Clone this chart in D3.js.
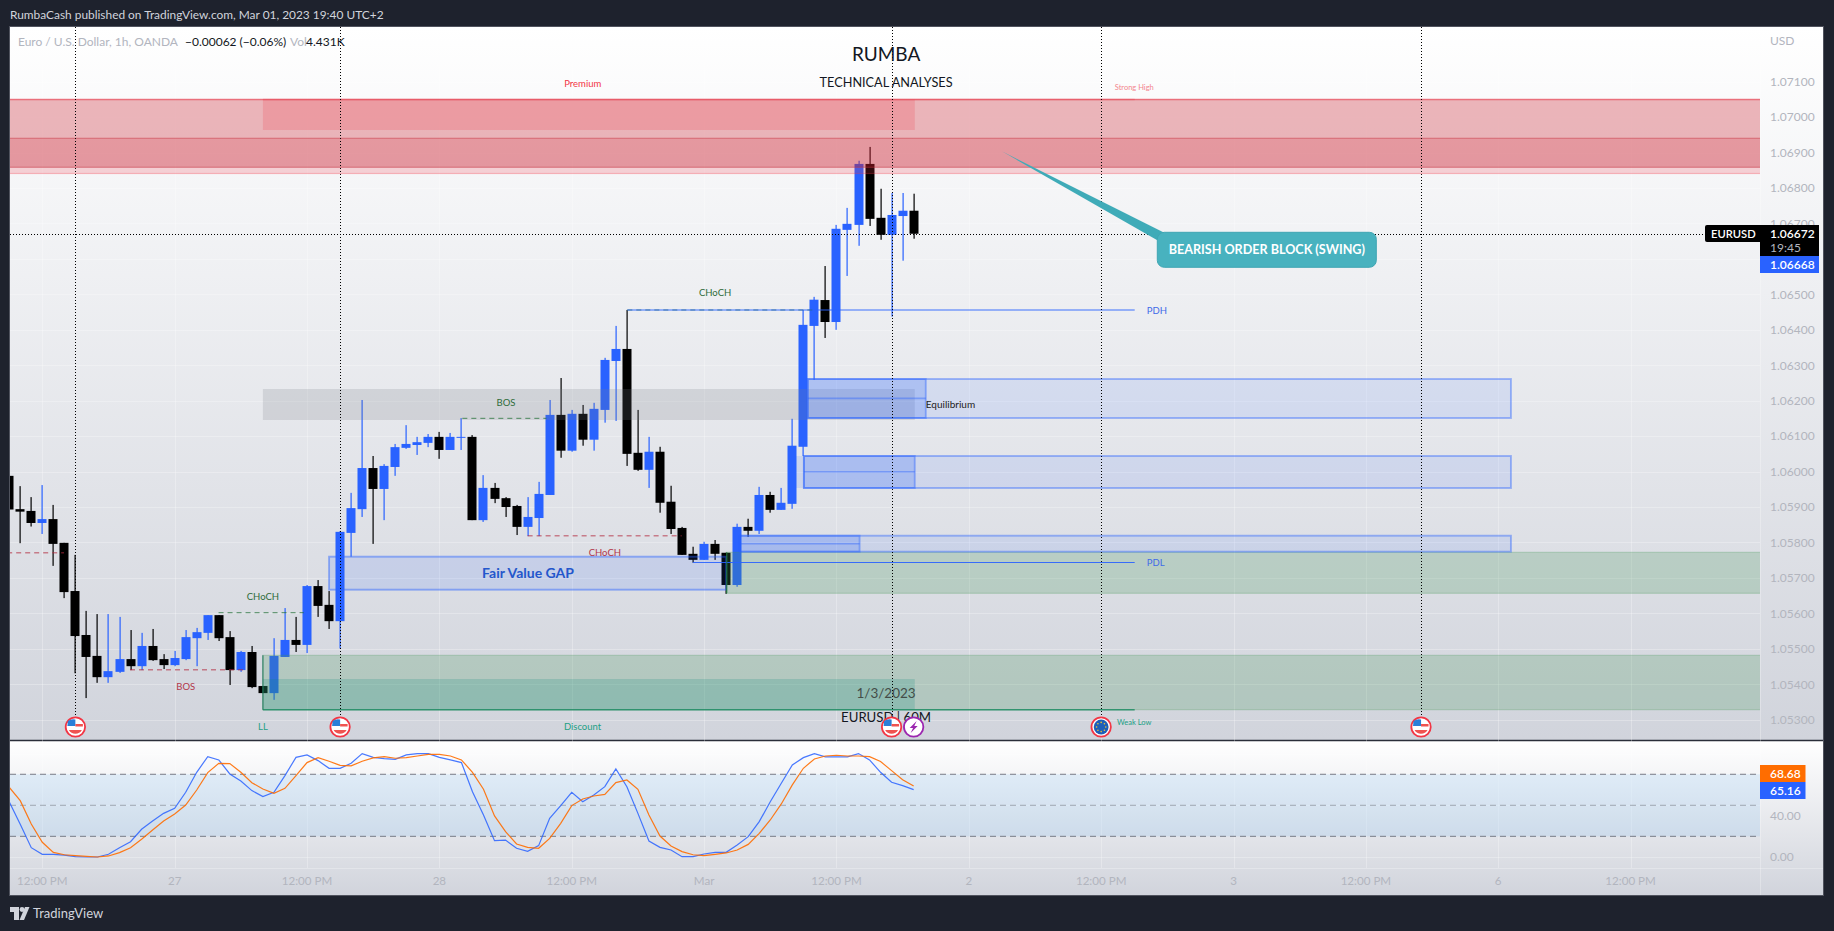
<!DOCTYPE html>
<html><head><meta charset="utf-8">
<style>html,body{margin:0;padding:0;background:#1e222d;overflow:hidden}svg{display:block}text{font-family:Lato,"Noto Sans",sans-serif}</style>
<script src="https://cdnjs.cloudflare.com/ajax/libs/d3/7.8.5/d3.min.js"></script>
</head><body><svg id="c" width="1834" height="931"></svg>
<script>
const firstBar = -3;
const opens = [1.05988,1.05894,1.05889,1.05855,1.05866,1.05799,1.05663,1.05539,1.05480,1.05420,1.05435,1.05471,1.05451,1.05508,1.05471,1.05454,1.05471,1.05530,1.05545,1.05595,1.05533,1.05440,1.05491,1.05395,1.05375,1.05477,1.05525,1.05511,1.05677,1.05624,1.05578,1.05827,1.05894,1.06010,1.05951,1.06013,1.06067,1.06075,1.06081,1.06098,1.06061,1.06096,1.06098,1.05863,1.05954,1.05925,1.05903,1.05844,1.05869,1.05934,1.06160,1.06059,1.06163,1.06090,1.06174,1.06312,1.06346,1.06053,1.06005,1.06056,1.05915,1.05841,1.05768,1.05751,1.05796,1.05771,1.05680,1.05844,1.05833,1.05934,1.05892,1.05909,1.06070,1.06411,1.06484,1.06422,1.06682,1.06696,1.06868,1.06716,1.06668,1.06721,1.06736];
const closes = [1.05893,1.05887,1.05855,1.05866,1.05796,1.05660,1.05536,1.05477,1.05420,1.05437,1.05471,1.05451,1.05508,1.05468,1.05454,1.05474,1.05533,1.05547,1.05595,1.05530,1.05440,1.05491,1.05392,1.05375,1.05480,1.05525,1.05511,1.05677,1.05621,1.05578,1.05830,1.05897,1.06010,1.05951,1.06016,1.06069,1.06078,1.06083,1.06098,1.06061,1.06098,1.06098,1.05863,1.05954,1.05923,1.05900,1.05844,1.05872,1.05937,1.06160,1.06059,1.06163,1.06090,1.06177,1.06315,1.06346,1.06050,1.06005,1.06056,1.05912,1.05838,1.05765,1.05751,1.05796,1.05768,1.05680,1.05844,1.05833,1.05934,1.05892,1.05912,1.06073,1.06414,1.06485,1.06422,1.06685,1.06699,1.06868,1.06713,1.06668,1.06724,1.06736,1.06671];
const highs = [1.05990,1.05959,1.05928,1.05962,1.05906,1.05799,1.05765,1.05607,1.05598,1.05598,1.05590,1.05553,1.05545,1.05556,1.05485,1.05494,1.05553,1.05559,1.05595,1.05595,1.05550,1.05494,1.05508,1.05395,1.05530,1.05615,1.05590,1.05680,1.05694,1.05663,1.05832,1.05940,1.06202,1.06044,1.06021,1.06078,1.06131,1.06098,1.06106,1.06112,1.06109,1.06151,1.06103,1.05990,1.05968,1.05928,1.05906,1.05928,1.05971,1.06202,1.06264,1.06174,1.06188,1.06194,1.06321,1.06411,1.06456,1.06174,1.06098,1.06070,1.05960,1.05844,1.05788,1.05802,1.05807,1.05771,1.05853,1.05867,1.05957,1.05943,1.05954,1.06149,1.06456,1.06493,1.06580,1.06696,1.06744,1.06877,1.06916,1.06798,1.06786,1.06786,1.06784];
const lows = [1.05890,1.05798,1.05845,1.05824,1.05734,1.05643,1.05431,1.05361,1.05404,1.05404,1.05432,1.05440,1.05440,1.05466,1.05443,1.05451,1.05468,1.05451,1.05525,1.05522,1.05398,1.05435,1.05389,1.05375,1.05356,1.05477,1.05491,1.05488,1.05590,1.05556,1.05501,1.05760,1.05872,1.05796,1.05863,1.05988,1.06064,1.06047,1.06069,1.06036,1.06061,1.06061,1.05863,1.05858,1.05911,1.05872,1.05821,1.05818,1.05818,1.05934,1.06039,1.06056,1.06073,1.06059,1.06138,1.06143,1.06016,1.06002,1.05954,1.05884,1.05824,1.05765,1.05743,1.05751,1.05751,1.05655,1.05675,1.05816,1.05824,1.05884,1.05892,1.05895,1.06044,1.06259,1.06377,1.06400,1.06552,1.06637,1.06693,1.06654,1.06437,1.06595,1.06657];
const stochK = [53.5,31.6,9.0,2.6,2.6,1.9,0.3,0,0,2.6,9.0,14.8,26.8,34.8,42.2,47.1,62.6,81.9,97.1,93.9,80.3,73.5,64.2,58.4,62.6,78.7,96.4,98.7,93.2,85.8,85.8,90.6,100,96.4,95.2,94.5,98.7,100,100,96.4,93.9,91.3,63.2,40.6,15.8,16.4,8.4,5.5,11,37.4,49.7,62.6,53.5,60,68,85.2,68,42.2,15.5,9.3,6.8,0.3,0.3,2.9,4.5,4.5,11.6,19.7,34.2,53.5,71.3,89,96.1,100,96.8,96.8,96.8,100,93.9,81.9,72.3,69,65.16];
const stochD = [67.4,54.5,31.9,14.2,4.5,2.2,1.3,0.6,0,1,4.2,9,17.1,26.1,34.8,41.6,50.3,64.8,81.6,90.6,90.3,81.9,71.9,65.8,61.6,66.4,78.7,91.3,96.1,92.6,88.7,88.1,92.6,95.8,97.1,95.5,96.1,97.7,99.3,99.3,97.7,93.9,81.9,65.5,39.7,24.5,12.6,9.3,8.4,18,32.6,49.7,56.1,59,60.6,71.9,74.5,65.5,40.6,20.3,10.6,5.2,2.2,1.3,2.6,3.9,6.8,12.2,22.9,35.8,51.3,69.7,85.8,94.8,97.7,98.4,97.7,97.7,97.1,92.3,83.5,74.8,68.68];
const priceTicks = ["1.07100","1.07000","1.06900","1.06800","1.06700","1.06500","1.06400","1.06300","1.06200","1.06100","1.06000","1.05900","1.05800","1.05700","1.05600","1.05500","1.05400","1.05300"];
const gridPrices = [1.071,1.070,1.069,1.068,1.067,1.066,1.065,1.064,1.063,1.062,1.061,1.060,1.059,1.058,1.057,1.056,1.055,1.054,1.053];
const timeBars = [0,12,24,36,48,60,72,84,96,108,120,132,144];
const timeLabels = ["12:00 PM","27","12:00 PM","28","12:00 PM","Mar","12:00 PM","2","12:00 PM","3","12:00 PM","6","12:00 PM"];
const stochTicks = [40,0];
const stochLevels = [80,50,20];
const eventBars = [3,27,77,96,125];
const eventKinds = ["us","us","us","eu","us"];

// zones: [startBar, endBar, priceTop, priceBottom, fill, stroke]
const END = 157, START = -4;
const redZones = [
 [START,END,1.070498,1.06841,"rgba(242,54,69,0.2)","rgba(242,54,69,0.3)"],
 [START,END,1.070498,1.069403,"rgba(185,60,70,0.2)",null],
 [START,END,1.069403,1.068585,"rgba(190,20,35,0.3)","rgba(200,50,65,0.45)"],
 [20,79.1,1.070498,1.069637,"rgba(242,54,69,0.2)",null]
];
const greyZones = [[20,79.1,1.06233,1.061455,"rgba(120,123,134,0.2)",null]];
const blueZones = [
 [69.4,133.15,1.062612,1.061512,"rgba(41,98,255,0.1)","rgba(41,98,255,0.42)"],
 [69.4,80.1,1.062612,1.061512,"rgba(41,98,255,0.22)","rgba(41,98,255,0.4)"],
 [69.05,133.15,1.06044,1.059537,"rgba(41,98,255,0.1)","rgba(41,98,255,0.42)"],
 [68.15,69.05,1.06044,1.059537,"rgba(41,98,255,0.12)",null],
 [69.05,79.1,1.06044,1.059537,"rgba(41,98,255,0.22)","rgba(41,98,255,0.4)"],
 [63.25,133.15,1.058191,1.05774,"rgba(41,98,255,0.1)","rgba(41,98,255,0.42)"],
 [63.25,74.1,1.058191,1.05774,"rgba(41,98,255,0.22)","rgba(41,98,255,0.4)"],
 [26,62,1.057599,1.056668,"rgba(41,98,255,0.12)","rgba(41,98,255,0.45)"]
];
const greenZones = [
 [62.05,END,1.057723,1.056566,"rgba(70,150,90,0.24)","rgba(70,150,90,0.25)"],
 [20,END,1.054817,1.053282,"rgba(70,150,90,0.24)","rgba(70,150,90,0.25)"],
 [20,79.1,1.054148,1.053282,"rgba(8,140,125,0.2)",null]
];
// lines: [startBar, endBar, price, colour, width, dash]
const RED="rgba(178,40,60,0.55)", GRN="rgba(30,110,50,0.75)", BLU="rgba(41,98,255,0.9)";
const levelLines = [
 [START,1.97,1.057711,RED,1.6,"5,4"],[7.95,18.37,1.05441,RED,1.6,"5,4"],[44,57.97,1.058191,RED,1.6,"5,4"],
 [15.98,23.7,1.056019,GRN,1,"5,4"],[38.08,45.7,1.061503,GRN,1,"5,4"],[53.04,70.05,1.064559,GRN,1,"5,4"],
 [53.04,99.04,1.064559,BLU,1.2,null],[58.98,99.04,1.057435,BLU,1.2,null],
 [69.4,80.1,1.062067,"rgba(41,98,255,0.4)",1.6,null],[69.05,79.1,1.059997,"rgba(41,98,255,0.4)",1.6,null],[63.25,74.1,1.057965,"rgba(41,98,255,0.4)",1.6,null],
 [START,END,1.070498,"rgba(230,60,75,0.5)",1.4,null],[20,99.04,1.070498,"rgba(230,60,75,0.3)",1.4,null],[20,99.04,1.053282,"rgba(30,140,100,0.85)",1.6,null]
];
// labels: [text, bar, price, size, colour, anchor, weight]
const chartLabels = [
 ["BOS",13,1.05393,9.5,"#b2364a","middle",400],["CHoCH",20,1.05647,9.5,"#2e6b39","middle",400],
 ["BOS",42.04,1.061955,9.5,"#2e6b39","middle",400],["CHoCH",51,1.05771,9.5,"#b2364a","middle",400],
 ["CHoCH",61,1.065038,9.5,"#2e6b39","middle",400],["LL",20,1.052802,9.5,"#22a085","middle",400],
 ["Discount",48.98,1.052802,9.5,"#22a085","middle",400],["Premium",49,1.070949,9.5,"#f23645","middle",400],
 ["Strong High",99,1.070842,7.5,"#f3868f","middle",400],["Weak Low",99,1.052926,7.5,"#22a085","middle",400],
 ["Equilibrium",80.1,1.061887,10,"#222","start",400],["PDH",100.13,1.06453,9.5,"#3f6ae8","start",400],
 ["PDL",100.13,1.057422,9.5,"#3f6ae8","start",400],["Fair Value GAP",44.04,1.057139,14,"#2457cc","middle",700],
 ["RUMBA",76.5,1.07178,19,"#131722","middle",400],["TECHNICAL ANALYSES",76.5,1.07099,12.7,"#131722","middle",400],
 ["1/3/2023",76.5,1.053754,13.5,"#444d48","middle",400],["EURUSD | 60M",76.5,1.053077,13.2,"#131722","middle",400]
];
const callout = {text:"BEARISH ORDER BLOCK (SWING)",tipBar:87,tipPrice:1.069036,boxBar:101.09,boxPrice:1.066751};

const W=1834,H=931,L=10,R=1823,PR=1760,T=27,MB=740,SB=868,B=895;
const svg=d3.select("#c");
const x=d3.scaleLinear().domain([0,144]).range([42.3,1630.6]);
const y=d3.scaleLinear().domain([1.071,1.053]).range([81.7,719.7]);
const ys=d3.scaleLinear().domain([100,0]).range([753.6,857]);
const defs=svg.append("defs");
function grad(id,a,b){const g=defs.append("linearGradient").attr("id",id).attr("x1",0).attr("x2",0).attr("y1",0).attr("y2",1);
 g.append("stop").attr("offset",0).attr("stop-color",a);g.append("stop").attr("offset",1).attr("stop-color",b);}
grad("gm","#ffffff","#d1d4dc");grad("gs","#ffffff","#d1d4dc");
defs.append("clipPath").attr("id","cm").append("rect").attr("x",L).attr("y",T).attr("width",PR-L).attr("height",MB-T);
defs.append("clipPath").attr("id","cs").append("rect").attr("x",L).attr("y",MB).attr("width",PR-L).attr("height",SB-MB);

svg.append("rect").attr("x",L-0.5).attr("y",T-0.5).attr("width",R-L+1).attr("height",B-T+1).attr("fill","#d1d4dc").attr("stroke","#50535e");
svg.append("rect").attr("x",L).attr("y",T).attr("width",R-L).attr("height",MB-T).attr("fill","url(#gm)");
svg.append("rect").attr("x",L).attr("y",MB).attr("width",R-L).attr("height",B-MB).attr("fill","url(#gs)");
svg.append("line").attr("x1",L).attr("x2",R).attr("y1",740.5).attr("y2",740.5).attr("stroke","#2a2e39").attr("stroke-width",1.5);

// grid
const grid=svg.append("g").attr("stroke","rgba(255,255,255,0.28)");
grid.selectAll("h").data(gridPrices).join("line").attr("x1",L).attr("x2",PR).attr("y1",d=>Math.round(y(d))+.5).attr("y2",d=>Math.round(y(d))+.5);
grid.selectAll("v").data(timeBars).join("line").attr("x1",d=>Math.round(x(d))+.5).attr("x2",d=>Math.round(x(d))+.5).attr("y1",T).attr("y2",MB);
grid.selectAll("v2").data(timeBars).join("line").attr("x1",d=>Math.round(x(d))+.5).attr("x2",d=>Math.round(x(d))+.5).attr("y1",MB).attr("y2",SB);
grid.selectAll("h2").data([100,50,0]).join("line").attr("x1",L).attr("x2",PR).attr("y1",d=>Math.round(ys(d))+.5).attr("y2",d=>Math.round(ys(d))+.5);
grid.append("line").attr("x1",L).attr("x2",R).attr("y1",SB+.5).attr("y2",SB+.5);
grid.append("line").attr("x1",PR+.5).attr("x2",PR+.5).attr("y1",T).attr("y2",B);

// candles
const bars=opens.map((o,i)=>({bar:firstBar+i,o,c:closes[i],h:highs[i],l:lows[i]}));
const main=svg.append("g").attr("clip-path","url(#cm)");
const cg=main.append("g");
const col=d=>d.c>=d.o?"#2962ff":"#000000";
cg.selectAll(".w").data(bars).join("rect").attr("x",d=>Math.round(x(d.bar))-.5).attr("width",1.2).attr("y",d=>y(d.h)).attr("height",d=>y(d.l)-y(d.h)).attr("fill",col);
cg.selectAll(".b").data(bars).join("rect").attr("x",d=>Math.round(x(d.bar))-4.5).attr("width",9).attr("y",d=>y(Math.max(d.o,d.c))).attr("height",d=>Math.max(1,Math.abs(y(d.o)-y(d.c)))).attr("fill",col);

// zones
function zones(list,sw){main.append("g").selectAll("rect").data(list).join("rect")
 .attr("x",d=>x(d[0])).attr("width",d=>x(d[1])-x(d[0])).attr("y",d=>y(d[2])).attr("height",d=>y(d[3])-y(d[2]))
 .attr("fill",d=>d[4]).attr("stroke",d=>d[5]||"none").attr("stroke-width",sw);}
zones(redZones,1.2);zones(greyZones,1);zones(greenZones,1.2);zones(blueZones,1.9);
main.append("g").selectAll("line").data(levelLines).join("line")
 .attr("x1",d=>x(d[0])).attr("x2",d=>x(d[1])).attr("y1",d=>y(d[2])).attr("y2",d=>y(d[2]))
 .attr("stroke",d=>d[3]).attr("stroke-width",d=>d[4]).attr("stroke-dasharray",d=>d[5]);
// zone left edges
main.append("line").attr("x1",x(20)).attr("x2",x(20)).attr("y1",y(1.054817)).attr("y2",y(1.053282)).attr("stroke","rgba(30,120,90,0.85)").attr("stroke-width",1.2);
main.append("line").attr("x1",x(62.05)).attr("x2",x(62.05)).attr("y1",y(1.057723)).attr("y2",y(1.056566)).attr("stroke","rgba(30,120,60,0.8)").attr("stroke-width",1.2);

// event dotted lines
const dot="#000";
main.selectAll(".ev").data(eventBars).join("line").attr("x1",d=>Math.round(x(d))+.5).attr("x2",d=>Math.round(x(d))+.5).attr("y1",T).attr("y2",716).attr("stroke",dot).attr("stroke-dasharray","1,2");
main.append("line").attr("x1",L).attr("x2",1706).attr("y1",Math.round(y(closes[closes.length-1]))+.5).attr("y2",Math.round(y(closes[closes.length-1]))+.5).attr("stroke",dot).attr("stroke-dasharray","1,2");

// text labels
main.append("g").selectAll("text").data(chartLabels).join("text").text(d=>d[0])
 .attr("x",d=>x(d[1])).attr("y",d=>y(d[2])).attr("dy","0.36em").attr("font-size",d=>d[3]).attr("fill",d=>d[4]).attr("text-anchor",d=>d[5]).attr("font-weight",d=>d[6]);

// callout
const bx=x(callout.boxBar),by=y(callout.boxPrice),bw=219,bh=35;
const cgp=svg.append("g");
cgp.append("path").attr("d",`M${x(callout.tipBar)},${y(callout.tipPrice)}L${bx+8},${by+1}L${bx},${by+8}Z`).attr("fill","#3fabb8");
cgp.append("rect").attr("x",bx).attr("y",by).attr("width",bw).attr("height",bh).attr("rx",7).attr("fill","#48b2bf").attr("stroke","#3fa6b3");
cgp.append("text").text(callout.text).attr("x",bx+bw/2).attr("y",by+bh/2).attr("dy","0.36em").attr("text-anchor","middle").attr("fill","#fff").attr("font-size",12.6).attr("font-weight",700);

// event icons
const ic=svg.append("g");
function icon(kind,bar){const g=ic.append("g").attr("transform",`translate(${x(bar)},727)`);
 if(kind==="us"){g.append("circle").attr("r",9.7).attr("fill","#fff").attr("stroke","#f23645").attr("stroke-width",1.8);
  g.append("path").attr("d","M-7.5,-6A9,9 0 0 1 0,-7.5L0,-1L-8,-1Z").attr("fill","#2a7fd8");
  g.append("rect").attr("x",0).attr("y",-3).attr("width",7.5).attr("height",2.5).attr("fill","#ef5350");
  g.append("path").attr("d","M-6.5,3L6.5,3A7.5,7.5 0 0 1 -6.5,3Z").attr("fill","#ef5350");}
 if(kind==="eu"){g.append("circle").attr("r",9.7).attr("fill","#fff").attr("stroke","#f23645").attr("stroke-width",1.8);
  g.append("circle").attr("r",7.4).attr("fill","#1f5fb8");
  d3.range(8).forEach(k=>g.append("circle").attr("r",.8).attr("fill","#f4c430").attr("cx",4.6*Math.cos(k*Math.PI/4)).attr("cy",4.6*Math.sin(k*Math.PI/4)));}
 if(kind==="bolt"){g.append("circle").attr("r",9.7).attr("fill","#fff").attr("stroke","#9c27b0").attr("stroke-width",1.8);
  g.append("path").attr("d","M3,-6L-4,1L-.6,1L-3,6L4,-1L.6,-1Z").attr("fill","#9c27b0");}
}
eventBars.forEach((b,i)=>icon(eventKinds[i],b));
icon("bolt",79);

// stochastic pane
const sub=svg.append("g").attr("clip-path","url(#cs)");
sub.append("rect").attr("x",L).attr("width",PR-L).attr("y",ys(stochLevels[0])).attr("height",ys(stochLevels[2])-ys(stochLevels[0])).attr("fill","rgba(33,150,243,0.1)");
sub.selectAll(".lv").data(stochLevels).join("line").attr("x1",L).attr("x2",PR).attr("y1",d=>ys(d)).attr("y2",d=>ys(d))
 .attr("stroke",d=>d===50?"rgba(120,123,134,0.6)":"#787b86").attr("stroke-dasharray","6,4");
const ln=d3.line().x((d,i)=>x(firstBar+i)).y(d=>ys(d));
sub.append("path").attr("d",ln(stochK)).attr("fill","none").attr("stroke","#2962ff").attr("stroke-opacity",.85).attr("stroke-width",1.2);
sub.append("path").attr("d",ln(stochD)).attr("fill","none").attr("stroke","#ff6d00").attr("stroke-opacity",.9).attr("stroke-width",1.2);

// axes
const AX="#b2b5be";
svg.append("text").text("USD").attr("x",1770).attr("y",41).attr("dy","0.36em").attr("font-size",12).attr("fill",AX);
svg.append("g").selectAll("text").data(priceTicks).join("text").text(d=>d).attr("x",1770).attr("y",d=>y(+d)).attr("dy","0.36em").attr("font-size",12).attr("fill",AX);
svg.append("g").selectAll("text").data(stochTicks).join("text").text(d=>d3.format(".2f")(d)).attr("x",1770).attr("y",d=>ys(d)).attr("dy","0.36em").attr("font-size",12).attr("fill",AX);
svg.append("g").selectAll("text").data(timeBars).join("text").text((d,i)=>timeLabels[i]).attr("x",d=>x(d)).attr("y",881).attr("dy","0.36em").attr("text-anchor","middle").attr("font-size",11.6).attr("fill",AX);

// price tags
const lastClose=closes[closes.length-1];
const tag=svg.append("g");
tag.append("rect").attr("x",1705).attr("y",225).attr("width",114).attr("height",17).attr("rx",2).attr("fill","#000");
tag.append("rect").attr("x",1760).attr("y",225).attr("width",59).attr("height",31).attr("fill","#000");
tag.append("rect").attr("x",1760).attr("y",256).attr("width",59).attr("height",17).attr("fill","#2962ff");
const tt=(s,xx,yy,c,w,fs)=>tag.append("text").text(s).attr("x",xx).attr("y",yy).attr("dy","0.36em").attr("font-size",fs||12).attr("fill",c).attr("font-weight",w||600);
tt("EURUSD",1711,233.5,"#fff",600,11.2);tt(d3.format(".5f")(lastClose+0.00001),1770,233.5,"#fff");tt("19:45",1770,248,"#b2b5be",400);tt("1.06668",1770,264.5,"#fff");
tag.append("rect").attr("x",1760).attr("y",765).attr("width",45.5).attr("height",17).attr("fill","#ff6d00");
tag.append("rect").attr("x",1760).attr("y",782).attr("width",45.5).attr("height",17).attr("fill","#2962ff");
tt(d3.format(".2f")(stochD[stochD.length-1]),1770,773.5,"#fff");tt(d3.format(".2f")(stochK[stochK.length-1]),1770,790.5,"#fff");

// header + legend
svg.append("text").text("RumbaCash published on TradingView.com, Mar 01, 2023 19:40 UTC+2").attr("x",10).attr("y",15).attr("dy","0.36em").attr("font-size",11.9).attr("fill","#d1d4dc");
const lg=svg.append("g").attr("font-size",12);
const lt=(s,xx,c)=>lg.append("text").text(s).attr("x",xx).attr("y",42).attr("dy","0.36em").attr("fill",c);
lt("Euro / U.S. Dollar, 1h, OANDA",18,"#b2b5be");lt("\u22120.00062 (\u22120.06%)",185,"#131722");lt("Vol",290,"#b2b5be");lt("4.431K",306,"#131722");

// footer logo
const lo=svg.append("g").attr("fill","#d1d4dc");
lo.append("path").attr("d","M10,907H19V920H14V912H10Z");
lo.append("circle").attr("cx",22).attr("cy",909.5).attr("r",2.4);
lo.append("path").attr("d","M25,907H29.5L24,920H19.5Z");
svg.append("text").text("TradingView").attr("x",33).attr("y",918).attr("font-size",13).attr("fill","#d1d4dc");
</script></body></html>
